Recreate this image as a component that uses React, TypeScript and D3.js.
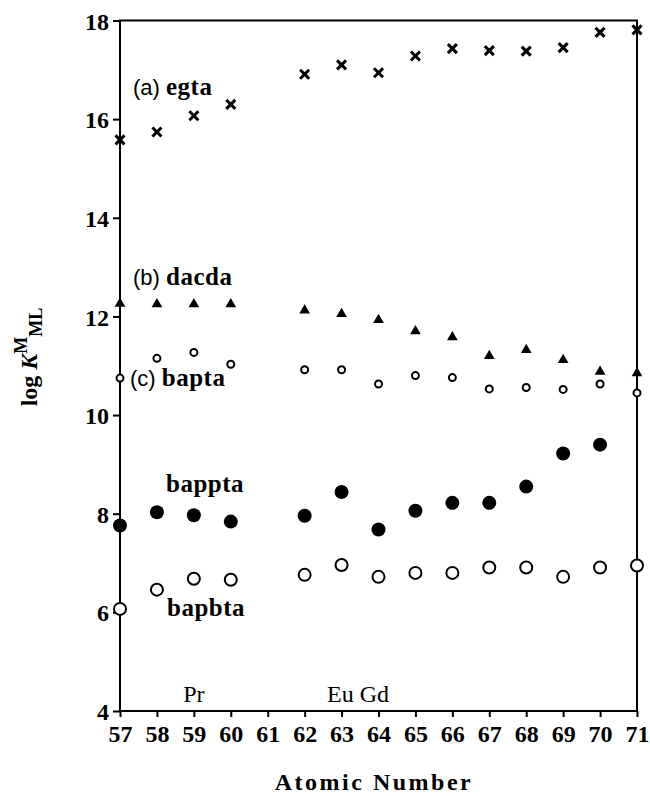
import React, { useEffect, useRef } from 'react';
import * as d3 from 'd3';

// atomic numbers of the lanthanides shown
const atomicNumbers = [57, 58, 59, 60, 62, 63, 64, 65, 66, 67, 68, 69, 70, 71];
const egta = [15.58, 15.74, 16.07, 16.3, 16.91, 17.1, 16.94, 17.28, 17.43, 17.39, 17.38, 17.45, 17.76, 17.81];
const dacda = [12.26, 12.25, 12.25, 12.25, 12.12, 12.05, 11.93, 11.7, 11.58, 11.2, 11.32, 11.12, 10.88, 10.85];
const bapta = [10.75, 11.15, 11.27, 11.03, 10.92, 10.92, 10.63, 10.8, 10.76, 10.53, 10.56, 10.52, 10.63, 10.45];
const bapptaZ = [57, 58, 59, 60, 62, 63, 64, 65, 66, 67, 68, 69, 70];
const bappta = [7.76, 8.03, 7.97, 7.84, 7.96, 8.44, 7.68, 8.06, 8.22, 8.22, 8.55, 9.22, 9.4];
const bapbta = [6.07, 6.46, 6.68, 6.66, 6.76, 6.96, 6.72, 6.8, 6.8, 6.91, 6.91, 6.72, 6.91, 6.95];

const xTicks = d3.range(57, 72);
const yTicks = [4, 6, 8, 10, 12, 14, 16, 18];

const serif = "Liberation Serif, Times New Roman, serif";
const sans = "Liberation Sans, Arial, sans-serif";

export default function App() {
    const ref = useRef<SVGSVGElement>(null);

    useEffect(() => {
        const svg = d3.select(ref.current);
        svg.selectAll('*').remove();

        const x = d3.scaleLinear().domain([57, 71]).range([120, 637]);
        const y = d3.scaleLinear().domain([4, 18]).range([711, 20.5]);

        // frame
        svg.append('rect')
            .attr('x', x(57)).attr('y', y(18))
            .attr('width', x(71) - x(57)).attr('height', y(4) - y(18))
            .attr('fill', 'none').attr('stroke', '#000').attr('stroke-width', 2);

        const yAxis = svg.append('g')
            .attr('transform', `translate(${x(57)},0)`)
            .call(d3.axisLeft(y).tickValues(yTicks).tickSize(7).tickPadding(4).tickFormat(d3.format('d')));
        const xAxis = svg.append('g')
            .attr('transform', `translate(0,${y(4)})`)
            .call(d3.axisBottom(x).tickValues(xTicks).tickSize(6).tickPadding(8).tickFormat(d3.format('d')));

        [yAxis, xAxis].forEach(g => {
            g.attr('font-family', serif).attr('font-size', 24).attr('font-weight', 'bold');
            g.select('.domain').remove();
            g.selectAll('line').attr('stroke', '#000').attr('stroke-width', 2);
            g.selectAll('text').attr('fill', '#000');
        });
        yAxis.selectAll('text').attr('dy', '0.36em');
        xAxis.selectAll('text').attr('dy', '0.71em');

        // egta crosses
        const cross = svg.append('g').attr('stroke', '#000').attr('stroke-width', 3);
        atomicNumbers.forEach((z, i) => {
            const cx = x(z), cy = y(egta[i]);
            cross.append('line').attr('x1', cx - 4.5).attr('y1', cy - 4.5).attr('x2', cx + 4.5).attr('y2', cy + 4.5);
            cross.append('line').attr('x1', cx - 4.5).attr('y1', cy + 4.5).attr('x2', cx + 4.5).attr('y2', cy - 4.5);
        });

        // dacda triangles
        svg.append('g').selectAll('path')
            .data(atomicNumbers)
            .join('path')
            .attr('transform', (z, i) => `translate(${x(z)},${y(dacda[i])})`)
            .attr('d', d3.symbol().type(d3.symbolTriangle).size(50)())
            .attr('fill', '#000');

        // bapta small open circles
        svg.append('g').selectAll('circle')
            .data(atomicNumbers)
            .join('circle')
            .attr('cx', z => x(z))
            .attr('cy', (z, i) => y(bapta[i]))
            .attr('r', 3.5)
            .attr('fill', '#fff').attr('stroke', '#000').attr('stroke-width', 2);

        // bappta filled circles
        svg.append('g').selectAll('circle')
            .data(bapptaZ)
            .join('circle')
            .attr('cx', z => x(z))
            .attr('cy', (z, i) => y(bappta[i]))
            .attr('r', 7)
            .attr('fill', '#000');

        // bapbta large open circles
        svg.append('g').selectAll('circle')
            .data(atomicNumbers)
            .join('circle')
            .attr('cx', z => x(z))
            .attr('cy', (z, i) => y(bapbta[i]))
            .attr('r', 6)
            .attr('fill', '#fff').attr('stroke', '#000').attr('stroke-width', 2);

        // series labels
        const labels = [
            { tag: '(a)', name: 'egta', x: 133, y: 95 },
            { tag: '(b)', name: 'dacda', x: 133, y: 285 },
            { tag: '(c)', name: 'bapta', x: 130, y: 386 },
            { tag: '', name: 'bappta', x: 166, y: 492 },
            { tag: '', name: 'bapbta', x: 167, y: 616 },
        ];
        labels.forEach(l => {
            const t = svg.append('text').attr('x', l.x).attr('y', l.y).attr('fill', '#000');
            if (l.tag) {
                t.append('tspan').text(l.tag + ' ')
                    .attr('font-family', sans).attr('font-size', 22);
            }
            t.append('tspan').text(l.name)
                .attr('font-family', serif).attr('font-weight', 'bold')
                .attr('font-size', 25).attr('letter-spacing', 0.5);
        });

        // element names
        svg.append('text').attr('x', x(59)).attr('y', 702).attr('text-anchor', 'middle')
            .attr('font-family', serif).attr('font-size', 24).text('Pr');
        svg.append('text').attr('x', 327).attr('y', 702)
            .attr('font-family', serif).attr('font-size', 24).text('Eu Gd');

        // axis titles
        svg.append('text').attr('x', 374).attr('y', 790).attr('text-anchor', 'middle')
            .attr('font-family', serif).attr('font-weight', 'bold').attr('font-size', 24)
            .attr('letter-spacing', 2.5).text('Atomic Number');

        const yt = svg.append('text')
            .attr('transform', 'translate(37,357) rotate(-90)')
            .attr('text-anchor', 'middle')
            .attr('font-family', serif).attr('font-weight', 'bold').attr('font-size', 24);
        yt.append('tspan').text('log ');
        yt.append('tspan').text('K').attr('font-style', 'italic');
        yt.append('tspan').text('M').attr('dy', -10).attr('font-size', 18);
        yt.append('tspan').text('ML').attr('dy', 15).attr('font-size', 18);
    }, []);

    return (
        <svg ref={ref} width={650} height={796}
            style={{ position: 'absolute', left: 0, top: 0, background: '#fff' }} />
    );
}
